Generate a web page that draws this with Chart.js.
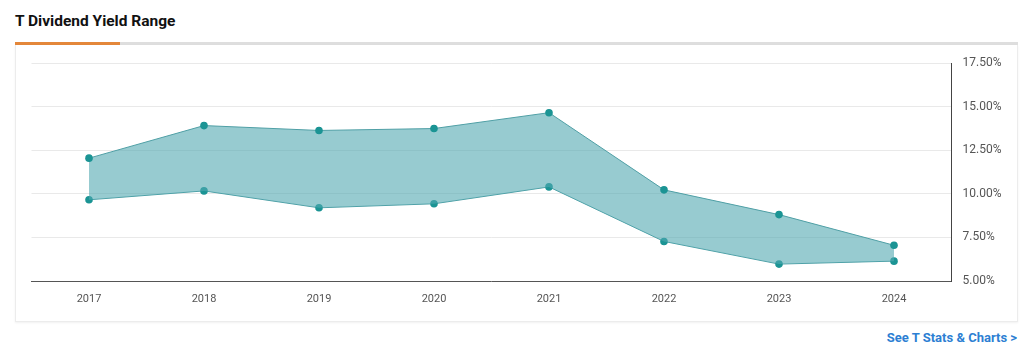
<!DOCTYPE html>
<html><head><meta charset="utf-8">
<script src="https://cdn.jsdelivr.net/npm/chart.js@4"></script>
<style>
html,body{margin:0;padding:0;background:#fff;width:1024px;height:354px;overflow:hidden;font-family:Roboto,"Open Sans",sans-serif;}
#title{position:absolute;left:15px;top:12px;font-size:15.5px;font-weight:700;color:#111;}
#bar{position:absolute;left:15px;top:42px;width:1003px;height:3px;background:#dedede;}
#bar2{position:absolute;left:15px;top:42px;width:105px;height:3px;background:#e4873a;}
#card{position:absolute;left:15px;top:45px;width:1001px;height:276px;border:1px solid #ececec;border-top:none;box-shadow:0 1px 2px rgba(0,0,0,0.06);}
#wrap{position:absolute;left:16px;top:45px;width:1000px;height:276px;}
#link{position:absolute;right:7px;top:330px;font-size:13px;font-weight:700;color:#2d7fd3;}
</style></head><body>
<div id="title">T Dividend Yield Range</div>
<div id="bar"></div><div id="bar2"></div>
<div id="card"></div>
<div id="wrap"><canvas id="c" width="1000" height="276"></canvas></div>
<div id="link">See T Stats &amp; Charts &gt;</div>
<script>
const years = ['2017','2018','2019','2020','2021','2022','2023','2024'];
const highYield = [12.05, 13.92, 13.64, 13.75, 14.66, 10.23, 8.81, 7.05];
const lowYield  = [9.66, 10.17, 9.20, 9.43, 10.40, 7.27, 5.97, 6.14];
const yTicks = [5, 7.5, 10, 12.5, 15, 17.5];

new Chart(document.getElementById('c'), {
  type: 'line',
  data: {
    labels: years,
    datasets: [
      {label:'High', data: highYield, borderColor:'#4f9fa5', borderWidth:1, backgroundColor:'rgba(82,168,177,0.6)', fill:'+1', pointRadius:3.8, pointBackgroundColor:'#1b9494', pointBorderWidth:0, tension:0},
      {label:'Low', data: lowYield, borderColor:'#4f9fa5', borderWidth:1, fill:false, pointRadius:3.8, pointBackgroundColor:'#1b9494', pointBorderWidth:0, tension:0}
    ]
  },
  options: {
    responsive:false, animation:false,
    layout:{padding:{top:16,left:15.5,right:0,bottom:0}},
    plugins:{legend:{display:false}, tooltip:{enabled:false}},
    scales:{
      x:{offset:true, grid:{display:false, drawTicks:false}, border:{display:true,color:'#555',width:1},
         ticks:{padding:12, color:'#555', font:{family:'Roboto',size:11}},
         afterFit:s=>{s.height=40;}},
      y:{position:'right', min:5, max:17.5,
         afterBuildTicks:s=>{s.ticks=yTicks.map(v=>({value:v}));},
         grid:{color:'#e9e9e9', drawTicks:false}, border:{display:true,color:'#444',width:1},
         ticks:{padding:11, color:'#555', font:{family:'Roboto',size:12}, callback:v=>v.toFixed(2)+'%'},
         afterFit:s=>{s.width=64.5;}}
    }
  }
});
</script>
</body></html>
